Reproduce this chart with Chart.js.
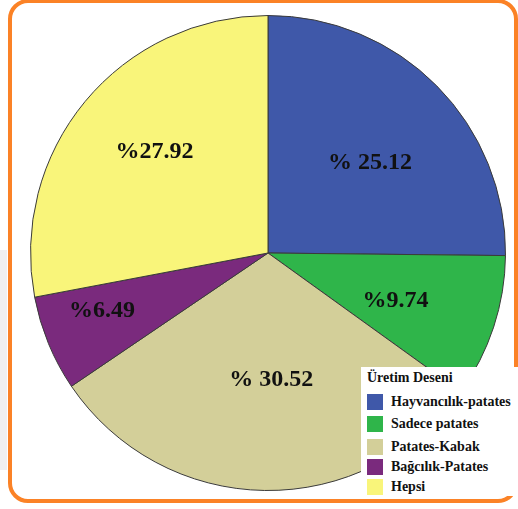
<!DOCTYPE html>
<html>
<head>
<meta charset="utf-8">
<script src="https://cdn.jsdelivr.net/npm/chart.js@4"></script>
<style>
  body { margin: 0; background: #fff; width: 518px; height: 509px; overflow: hidden; position: relative; }
  #frame { position: absolute; left: 8px; top: -1px; width: 502px; height: 496px; border: 4px solid #fb8226; border-radius: 20px; }
  #side { position: absolute; left: 0; top: 250px; width: 7px; height: 220px; background: #f0f0f0; }
  #chart1 { position: absolute; left: 0; top: 0; }
  #legend { position: absolute; left: 361px; top: 367px; width: 157px; height: 129px; background: #fff;
    font-family: "Liberation Serif", "Times New Roman", serif; font-weight: bold; color: #111; }
  #legend .title { position: absolute; left: 6px; top: 3px; font-size: 14px; }
  #legend .item { position: absolute; left: 6px; height: 16px; font-size: 14px; line-height: 16px; white-space: nowrap; }
  #legend .sw { display: inline-block; width: 16px; height: 16px; vertical-align: top; margin-right: 8px; }
</style>
</head>
<body>
<div id="side"></div>
<div id="frame"></div>
<canvas id="chart1"></canvas>
<div id="legend"><div class="title">Üretim Deseni</div></div>
<script>
const labels = ['Hayvancılık-patates', 'Sadece patates', 'Patates-Kabak', 'Bağcılık-Patates', 'Hepsi'];
const values = [25.12, 9.74, 30.52, 6.49, 27.92];
const valueTexts = ['% 25.12', '%9.74', '% 30.52', '%6.49', '%27.92'];
const colors = ['#3f58a9', '#2fb54a', '#d3cf99', '#7a2a7d', '#f9f57a'];

// 조각 위 퍼센트 글자
const sliceLabels = {
  id: 'sliceLabels',
  afterDatasetsDraw(chart, args, opts) {
    const ctx = chart.ctx;
    const meta = chart.getDatasetMeta(0);
    ctx.save();
    ctx.font = 'bold 24px "Liberation Serif", "Times New Roman", serif';
    ctx.fillStyle = '#111';
    ctx.textAlign = 'center';
    ctx.textBaseline = 'middle';
    meta.data.forEach((arc, i) => {
      const p = arc.getProps(['x', 'y', 'startAngle', 'endAngle', 'outerRadius']);
      const mid = (p.startAngle + p.endAngle) / 2 + opts.angleShift[i];
      const r = p.outerRadius * opts.radius[i];
      ctx.fillText(valueTexts[i], p.x + Math.cos(mid) * r, p.y + Math.sin(mid) * r);
    });
    ctx.restore();
  },
};

const canvas = document.getElementById('chart1');
canvas.width = 518;
canvas.height = 509;
const ctx = canvas.getContext('2d');

new Chart(ctx, {
  type: 'pie',
  data: {
    labels: labels,
    datasets: [{
      data: values,
      backgroundColor: colors,
      borderColor: '#3a3a3a',
      borderWidth: 1,
    }],
  },
  options: {
    responsive: false,
    maintainAspectRatio: false,
    animation: false,
    layout: { padding: { left: 30, right: 12, top: 15, bottom: 18 } },
    plugins: {
      legend: { display: false },
      tooltip: { enabled: false },
      sliceLabels: {
        radius: [0.574, 0.573, 0.534, 0.74, 0.64],
        angleShift: [0.054, 0.038, -0.04, 0.058, 0.035],
      },
    },
  },
  plugins: [sliceLabels],
});

// legend
const legendBox = document.getElementById('legend');
const rowTops = [27, 49, 72, 92, 112];
labels.forEach(function (name, i) {
  const row = document.createElement('div');
  row.className = 'item';
  row.style.top = rowTops[i] + 'px';
  row.innerHTML = '<span class="sw" style="background:' + colors[i] + '"></span>' + name;
  legendBox.appendChild(row);
});
</script>
</body>
</html>
